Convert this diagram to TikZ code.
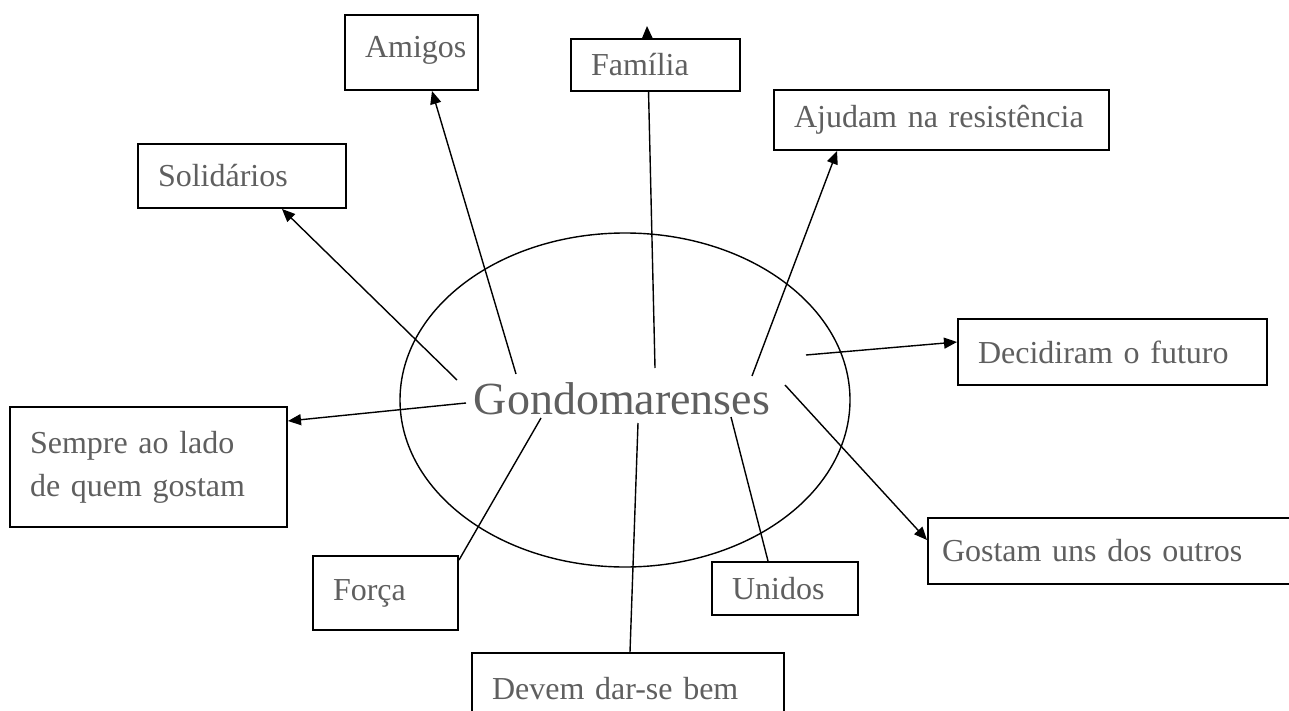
\documentclass[tikz,border=0pt]{standalone}
\usepackage{fontspec}
\setmainfont{Liberation Serif}
\usetikzlibrary{arrows.meta,shapes.geometric,backgrounds}
\definecolor{inkgray}{HTML}{5F5F5F}

\begin{document}
\begin{tikzpicture}[
    x=1pt, y=-1pt,
    concept/.style={draw, line width=2pt, fill=white, inner xsep=20pt, inner ysep=0pt, align=left, text=inkgray, font=\fontsize{32}{43}\selectfont},
    hub/.style={draw, ellipse, line width=1.4pt, inner sep=0pt, minimum width=450pt, minimum height=334pt, text=inkgray, font=\fontsize{46}{50}\selectfont},
    link/.style={line width=1.4pt, -{Triangle[length=13pt, width=11pt]}},
    plain/.style={line width=1.4pt}
  ]
    \useasboundingbox (0,0) rectangle (1289,711);
    \clip (0,0) rectangle (1289,711);

    \node[hub] (g) at (625,400) {\hspace*{-6pt}\raisebox{-14pt}[0pt][0pt]{Gondomarenses}};

    \node[concept, text width=93pt, minimum height=75pt, text depth=12pt] (ami) at (411.5,52.5) {Amigos};
    \node[concept, text width=129pt, minimum height=52pt] (fam) at (655.5,65) {Família};
    \node[concept, text width=168pt, minimum height=64pt] (sol) at (242,176) {Solidários};
    \node[concept, text width=295pt, minimum height=60pt] (aju) at (941.5,120) {Ajudam na resistência};
    \node[concept, text width=269pt, minimum height=66pt] (dec) at (1112.5,352) {Decidiram o futuro};
    \node[concept, text width=237pt, minimum height=120pt] (sem) at (148.5,467) {Sempre ao lado\\de quem gostam};
    \node[concept, text width=105pt, minimum height=74pt] (frc) at (385.5,593) {Força};
    \node[concept, text width=106pt, minimum height=53pt] (uni) at (785,588.5) {Unidos};
    \node[concept, text width=272pt, minimum height=72pt] (dev) at (628,689) {Devem dar-se bem};
    \node[concept, text width=344pt, inner xsep=14pt, minimum height=66pt] (gos) at (1114,551) {Gostam uns dos outros};

    \begin{scope}[on background layer]
    \coordinate (from-sol) at (457,380);
    \coordinate (from-ami) at (516,374);
    \coordinate (from-fam) at (655,368);
    \coordinate (from-aju) at (752,376);
    \coordinate (from-dec) at (806,355);
    \coordinate (from-gos) at (785,385);
    \coordinate (from-uni) at (731,417);
    \coordinate (from-dev) at (638,423);
    \coordinate (from-frc) at (541,418);
    \coordinate (from-sem) at (466,403);

    \draw[link] (from-sol) -- ([xshift=40pt]sol.south);
    \draw[link] (from-ami) -- ([xshift=20.5pt]ami.south);
    \draw[link] (from-fam) -- ([xshift=-8.5pt, yshift=12pt]fam.north);
    \draw[link] (from-aju) -- ([xshift=-104.5pt]aju.south);
    \draw[link] (from-dec) -- ([yshift=10pt]dec.west);
    \draw[link] (from-gos) -- ([yshift=11pt]gos.west);
    \draw[plain] (from-uni) -- ([xshift=-17pt]uni.north);
    \draw[plain] (from-dev) -- ([xshift=2pt]dev.north);
    \draw[plain] (from-frc) -- ([yshift=-5pt]frc.north east);
    \draw[link] (from-sem) -- ([yshift=-15pt]sem.north east);
    \end{scope}
  \end{tikzpicture}
\end{document}
